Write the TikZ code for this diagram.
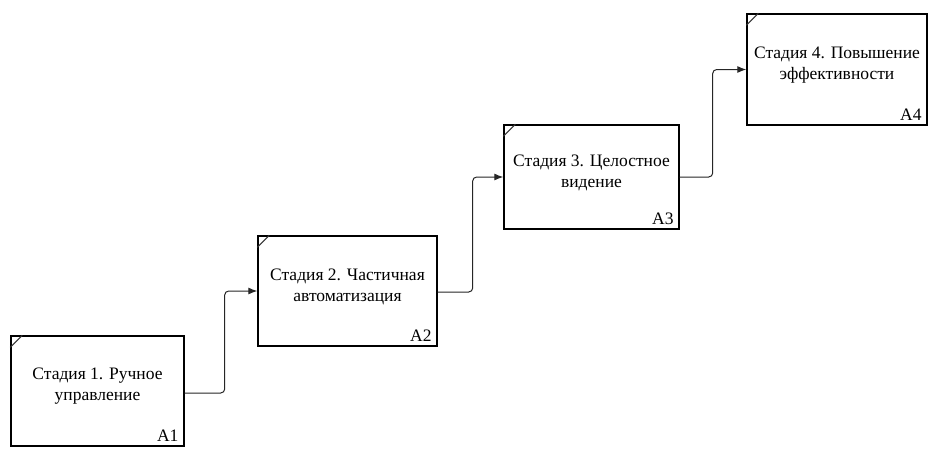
\documentclass[tikz,border=0pt]{standalone}
\usepackage{fontspec}
\setmainfont{Liberation Serif}
\usetikzlibrary{arrows.meta,positioning}
\tikzset{
  stagebox/.style={draw=black, line width=1.4pt, rectangle, inner sep=0pt},
  stagetext/.style={align=center, font=\fontsize{17.5pt}{21pt}\selectfont, inner sep=0pt},
  stagelabel/.style={anchor=south east, font=\fontsize{17.5pt}{19pt}\selectfont, inner sep=0pt},
  conn/.style={draw=black!85, line width=1pt, rounded corners=4pt, -{Latex[length=9pt,width=7pt]}},
  tick/.style={draw=black!80, line width=1.1pt}
}
\begin{document}
\begin{tikzpicture}[x=1pt,y=-1pt]
\useasboundingbox[fill=white] (0,0) rectangle (937,456);
% boxes
\node[stagebox, minimum width=173pt, minimum height=110pt] (A1) at (97.5,391) {};
\node[stagebox, minimum width=179pt, minimum height=110pt] (A2) at (347.5,291) {};
\node[stagebox, minimum width=175pt, minimum height=104pt] (A3) at (591.5,177) {};
\node[stagebox, minimum width=180pt, minimum height=111pt] (A4) at (837,69.5) {};
% texts
\node[stagetext] (t1) at ([yshift=5pt]A1.center) {Стадия 1. Ручное\\управление};
\node[stagetext] (t2) at ([yshift=4pt]A2.center) {Стадия 2. Частичная\\автоматизация};
\node[stagetext] (t3) at ([yshift=4pt]A3.center) {Стадия 3. Целостное\\видение};
\node[stagetext] (t4) at ([yshift=4pt]A4.center) {Стадия 4. Повышение\\эффективности};
% labels
\node[stagelabel] (l1) at ([xshift=-6pt,yshift=5pt]A1.south east) {A1};
\node[stagelabel] (l2) at ([xshift=-6pt,yshift=5pt]A2.south east) {A2};
\node[stagelabel] (l3) at ([xshift=-6pt,yshift=5pt]A3.south east) {A3};
\node[stagelabel] (l4) at ([xshift=-6pt,yshift=5pt]A4.south east) {A4};
% corner ticks
\foreach \b in {A1,A2,A3,A4}{
  \draw[tick] ([yshift=-12pt]\b.north west) -- ([xshift=12pt]\b.north west);
}
% connectors
\draw[conn] ([yshift=-2pt]A1.east) -- ++(40,0) |- (A2.west);
\draw[conn] ([yshift=-1pt]A2.east) -- ++(35,0) |- (A3.west);
\draw[conn] (A3.east) -- ++(33,0) |- (A4.west);
\end{tikzpicture}
\end{document}
